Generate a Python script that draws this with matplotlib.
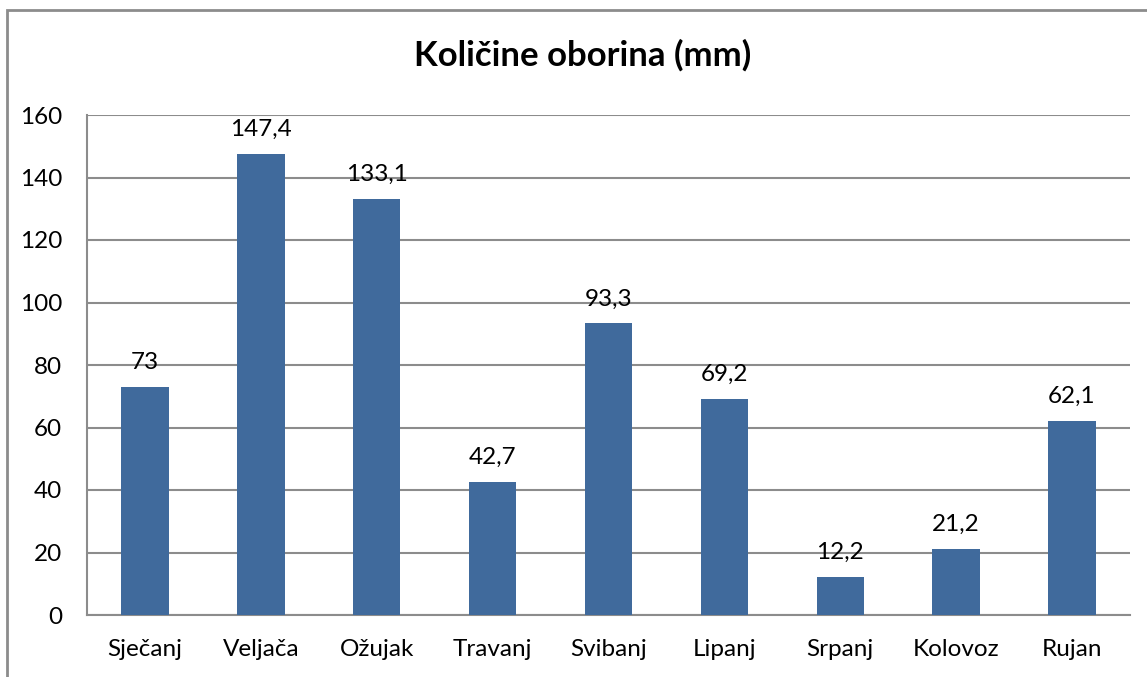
import matplotlib.pyplot as plt
import matplotlib.patches as mpatches
import numpy as np

months = ["Sječanj", "Veljača", "Ožujak", "Travanj", "Svibanj",
          "Lipanj", "Srpanj", "Kolovoz", "Rujan"]
rain_mm = [73, 147.4, 133.1, 42.7, 93.3, 69.2, 12.2, 21.2, 62.1]
y_ticks = [0, 20, 40, 60, 80, 100, 120, 140, 160]

plt.rcParams["font.family"] = ["Lato", "DejaVu Sans"]

W, H = 1147, 677
fig = plt.figure(figsize=(W / 100, H / 100), dpi=100)

# outer chart border (runs off right and bottom edge)
fig.patches.append(mpatches.Rectangle((7 / W, -0.1), 1.2, 1 - 10 / H + 0.1,
                                      transform=fig.transFigure, fill=False,
                                      edgecolor="#8c8c8c", linewidth=2))

ax = fig.add_axes([87 / W, 1 - 615 / H, (1130 - 87) / W, (615 - 115) / H])
x = np.arange(len(months))
bars = ax.bar(x, rain_mm, width=0.41, color="#406a9c", zorder=3)

ax.set_xlim(-0.5, len(months) - 0.5)
ax.set_ylim(0, 160)
ax.set_yticks(y_ticks)
ax.set_xticks(x)
ax.set_xticklabels(months)
ax.tick_params(length=0, labelsize=17.5, colors="black")
ax.tick_params(axis="y", pad=18)
ax.tick_params(axis="x", pad=17)
ax.grid(axis="y", color="#8c8c8c", linewidth=1.5, zorder=0)

for s in ["top", "right"]:
    ax.spines[s].set_visible(False)
for s in ["left", "bottom"]:
    ax.spines[s].set_color("#8c8c8c")
    ax.spines[s].set_linewidth(1.5)

for b, v in zip(bars, rain_mm):
    lbl = f"{v:g}".replace(".", ",")
    ax.annotate(lbl, (b.get_x() + b.get_width() / 2, v), xytext=(0, 13),
                textcoords="offset points", ha="center", va="baseline", fontsize=17.5)

fig.text(583 / W, 1 - 55 / H, "Količine oborina (mm)", ha="center", va="center",
         fontsize=25, fontweight="bold")

fig.savefig("out.png", dpi=100)
